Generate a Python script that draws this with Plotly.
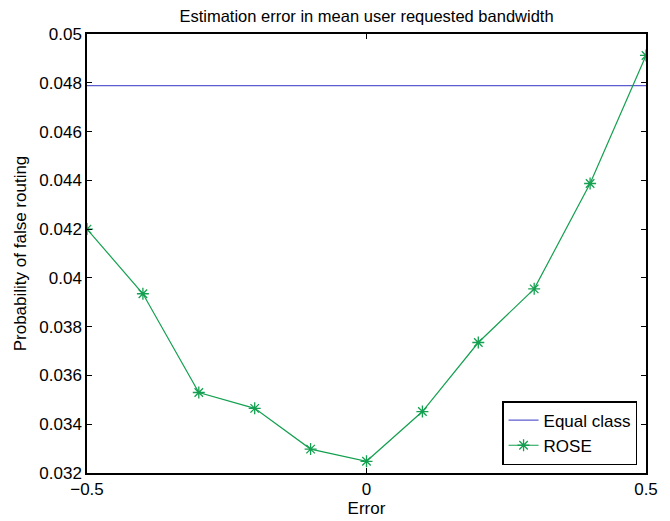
import plotly.graph_objects as go

errors = [-0.5, -0.4, -0.3, -0.2, -0.1, 0.0, 0.1, 0.2, 0.3, 0.4, 0.5]
rose = [0.0420, 0.03935, 0.03530, 0.03465, 0.03298, 0.03248, 0.03452, 0.03735, 0.03955, 0.04387, 0.04912]
equal_class_value = 0.04788
equal_x = [-0.5, 0.5]
equal_y = [equal_class_value, equal_class_value]

y_ticks = [0.032, 0.034, 0.036, 0.038, 0.040, 0.042, 0.044, 0.046, 0.048, 0.050]
y_tick_labels = ["0.032", "0.034", "0.036", "0.038", "0.04", "0.042", "0.044", "0.046", "0.048", "0.05"]
x_ticks = [-0.5, 0, 0.5]
x_tick_labels = ["\u22120.5", "0", "0.5"]

fig = go.Figure()
fig.add_trace(go.Scatter(x=equal_x, y=equal_y, mode="lines", name="Equal class",
                         line=dict(color="#5c5cd0", width=1.2)))
fig.add_trace(go.Scatter(x=errors, y=rose, mode="lines+markers", name="ROSE",
                         line=dict(color="#14a050", width=1.2),
                         marker=dict(symbol="asterisk-open", size=10,
                                     line=dict(color="#14a050", width=1.3))))

font = "Liberation Sans, Arial, Helvetica, sans-serif"
# page body has an 8px default margin, so the figure is 8px smaller on each side
fig.update_layout(
    width=662, height=513,
    margin=dict(l=79, r=24, t=26, b=48),
    paper_bgcolor="white", plot_bgcolor="white",
    font=dict(family=font, size=17, color="black"),
    title=dict(text="Estimation error in mean user requested bandwidth",
               x=0.5, xref="paper", xanchor="center", y=1, yref="container",
               yanchor="top", pad=dict(t=2), font=dict(size=16.5)),
    showlegend=True,
    legend=dict(x=0.984, y=0.018, xanchor="right", yanchor="bottom",
                bordercolor="black", borderwidth=1.5, bgcolor="white",
                font=dict(size=17), tracegroupgap=0),
    xaxis=dict(range=[-0.5, 0.5], tickvals=x_ticks, ticktext=x_tick_labels,
               ticks="inside", ticklen=5, tickcolor="black", showgrid=False,
               zeroline=False, showline=True, linecolor="black", linewidth=1.5,
               mirror="ticks", automargin=False, tickfont=dict(size=17),
               title=dict(text="Error", standoff=2, font=dict(size=17))),
    yaxis=dict(range=[0.032, 0.050], tickvals=y_ticks, ticktext=y_tick_labels,
               ticks="inside", ticklen=5, tickcolor="black", showgrid=False,
               zeroline=False, showline=True, linecolor="black", linewidth=1.5,
               mirror="ticks", automargin=False, tickfont=dict(size=17),
               title=dict(text="Probability of false routing", standoff=8,
                          font=dict(size=17))),
)

fig.write_html("out.html")
